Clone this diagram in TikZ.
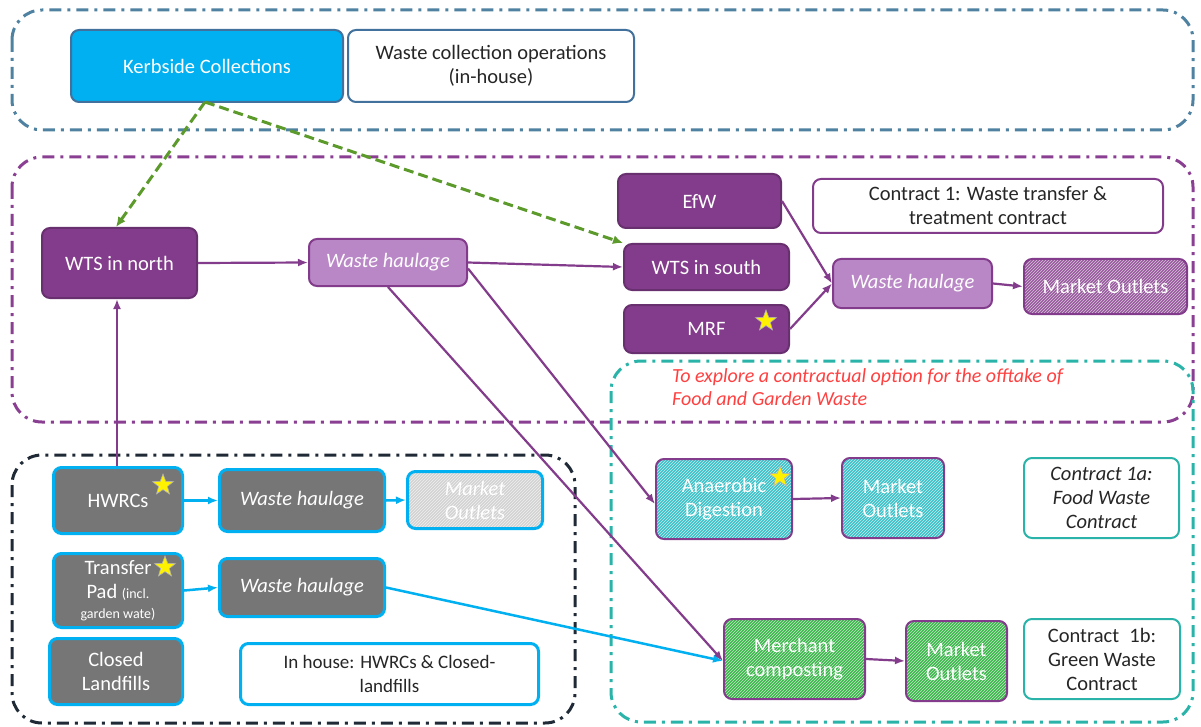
\documentclass[tikz,border=0pt]{standalone}
\usepackage{fontspec}
\setmainfont{Carlito}
\usetikzlibrary{shapes.geometric,arrows.meta,patterns}
\definecolor{kerbblue}{HTML}{00B0F0}
\definecolor{bordblue}{HTML}{41719C}
\definecolor{topdash}{HTML}{4F81A0}
\definecolor{pdark}{HTML}{833C8B}
\definecolor{plight}{HTML}{B987C6}
\definecolor{pdash}{HTML}{8B3F93}
\definecolor{tealc}{HTML}{2AB3A8}
\definecolor{adfill}{HTML}{3CC1C6}
\definecolor{greenc}{HTML}{3AB54A}
\definecolor{grayc}{HTML}{767676}
\definecolor{blackdash}{HTML}{1F2A36}
\definecolor{redtxt}{HTML}{FF4040}
\definecolor{greenarr}{HTML}{5B9A2B}
\definecolor{txtdark}{HTML}{262626}
\newcommand{\fsn}{\fontsize{20.5}{24}\selectfont}
\begin{document}
\begin{tikzpicture}[x=1pt,y=-1pt,
  every node/.style={font=\fsn, align=center, inner sep=2pt},
  box/.style={rounded corners=8pt, anchor=north west, line width=2pt},
  kerb/.style={box, fill=kerbblue, draw=bordblue, text=white},
  note/.style={box, fill=white, text=txtdark},
  pbox/.style={box, fill=pdark, draw=pdark!80!black, text=white},
  plbox/.style={box, fill=plight, draw=pdark, text=white, font=\fsn\itshape},
  hatchbox/.style={box, draw=#1, text=white, pattern=north east lines, pattern color=white!70!#1},
  gbox/.style={box, fill=grayc, draw=kerbblue, line width=3pt, text=white},
  container/.style={rounded corners=30pt, line width=3pt, dash pattern=on 12pt off 6pt on 3pt off 6pt},
  parr/.style={draw=pdark, line width=2.2pt, -{Latex[length=10pt,width=8pt]}},
  barr/.style={draw=kerbblue, line width=2.5pt, -{Latex[length=10pt,width=8pt]}},
  garr/.style={draw=greenarr, line width=3pt, dash pattern=on 10pt off 5pt, -{Latex[length=10pt,width=9pt]}},
  starn/.style={star, star points=5, star point ratio=2.4, fill=yellow, draw=gray!60, line width=0.6pt, minimum size=22pt, inner sep=0pt}
]
\useasboundingbox (0,0) rectangle (1201,727);
% containers
\draw[container, draw=topdash] (12,10) rectangle (1193,130);
\draw[container, draw=pdash] (12,157) rectangle (1193,422);
\draw[container, draw=tealc] (611,361) rectangle (1193,722);
\draw[container, draw=blackdash] (12,455) rectangle (575,723);

% top
\node[kerb, minimum width=272pt, minimum height=72pt] (kerb) at (70,29) {Kerbside Collections};
\node[note, draw=bordblue, minimum width=286pt, minimum height=72pt] (wco) at (347,29) {Waste collection operations\\(in-house)};

% purple region
\node[pbox, minimum width=155pt, minimum height=70pt] (wtsn) at (41,227) {WTS in north};
\node[plbox, minimum width=158pt, minimum height=47pt] (wh1) at (308,238) {Waste haulage};
\node[pbox, minimum width=163pt, minimum height=54pt] (efw) at (617,173) {EfW};
\node[pbox, minimum width=165pt, minimum height=46pt] (wtss) at (623,243) {WTS in south};
\node[pbox, minimum width=165pt, minimum height=48pt] (mrf) at (623,304) {MRF};
\node[starn] (s1) at (766,321) {};
\node[note, draw=pdark, minimum width=350pt, minimum height=54pt] (c1) at (812,178) {Contract 1: Waste transfer \&\\treatment contract};
\node[plbox, minimum width=159pt, minimum height=49pt] (wh2) at (832,258) {Waste haulage};
\node[hatchbox=pdark, preaction={fill=pdark!85}, minimum width=163pt, minimum height=55pt] (mo1) at (1023,258) {Market Outlets};

% teal region
\node[anchor=north west, text=redtxt, align=left, font=\fontsize{20}{23}\selectfont\itshape, inner sep=0pt] (red) at (672,368) {To explore a contractual option for the offtake of\\Food and Garden Waste};
\node[hatchbox=adfill, preaction={fill=adfill}, draw=pdark, minimum width=136pt, minimum height=80pt] (ad) at (655,458) {Anaerobic\\Digestion};
\node[starn] (s2) at (780,477) {};
\node[hatchbox=adfill, preaction={fill=adfill}, draw=pdark, minimum width=102pt, minimum height=80pt] (mo2) at (841,457) {Market\\Outlets};
\node[note, draw=tealc, minimum width=155pt, minimum height=80pt, font=\fsn\itshape] (c1a) at (1023,457) {Contract 1a:\\Food Waste\\Contract};
\node[hatchbox=greenc, preaction={fill=greenc}, draw=pdark, minimum width=141pt, minimum height=80pt] (mc) at (723,618) {Merchant\\composting};
\node[hatchbox=greenc, preaction={fill=greenc}, draw=pdark, minimum width=101pt, minimum height=80pt] (mo3) at (905,620) {Market\\Outlets};
\node[note, draw=tealc, minimum width=156pt, minimum height=80pt] (c1b) at (1023,618) {Contract\enspace1b:\\Green Waste\\Contract};

% black region
\node[gbox, minimum width=129pt, minimum height=66pt] (hwrc) at (52,466) {HWRCs};
\node[starn] (s3) at (163,485) {};
\node[gbox, minimum width=165pt, minimum height=62pt, font=\fsn\itshape] (wh3) at (218,468) {Waste haulage};
\node[hatchbox=gray!40, preaction={fill=gray!35}, draw=kerbblue, line width=3pt, minimum width=135pt, minimum height=57pt, font=\fsn\itshape] (mo4) at (406,470) {Market\\Outlets};
\node[gbox, minimum width=129pt, minimum height=74pt, inner sep=0pt] (tp) at (52,552) {Transfer\\Pad {\fontsize{14}{15}\selectfont(incl.}\\[-4pt]{\fontsize{14}{15}\selectfont garden wate)}};
\node[starn] (s4) at (165,567) {};
\node[gbox, minimum width=165pt, minimum height=58pt, font=\fsn\itshape] (wh4) at (218,557) {Waste haulage};
\node[gbox, minimum width=133pt, minimum height=66pt] (cl) at (48,637) {Closed\\Landfills};
\node[note, draw=kerbblue, line width=3pt, minimum width=298pt, minimum height=61pt, font=\fontsize{19}{24}\selectfont] (ih) at (239,642) {In house: HWRCs \& Closed-\\landfills};

% arrows
\coordinate (kb) at (205,102);
\draw[garr] (kb) -- (wtsn.north -| 116,0);
\draw[garr] (kb) -- (wtss.north west);
\draw[parr] (wtsn.east) -- (wh1.west);
\draw[parr] (wh1.east) -- (wtss.west);
\draw[parr] ([yshift=-6pt]wh1.east) -- ([yshift=-5pt]ad.west);
\draw[parr] (wh1.south) -- ([yshift=-2pt]mc.west);
\draw[parr] (hwrc.north -| 117,0) -- (wtsn.south -| 117,0);
\draw[parr] (efw.east) -- (wh2.west);
\draw[parr] (mrf.east) -- (wh2.west);
\draw[parr] (wh2.east) -- (mo1.west);
\draw[parr] (ad.east) -- (mo2.west);
\draw[parr] (mc.east) -- (mo3.west);
\draw[barr] (hwrc.east) -- (wh3.west);
\draw[barr] (wh3.east) -- (mo4.west);
\draw[barr] (tp.east) -- (wh4.west);
\draw[barr] (wh4.east) -- ([yshift=-2pt]mc.west);
\end{tikzpicture}
\end{document}
